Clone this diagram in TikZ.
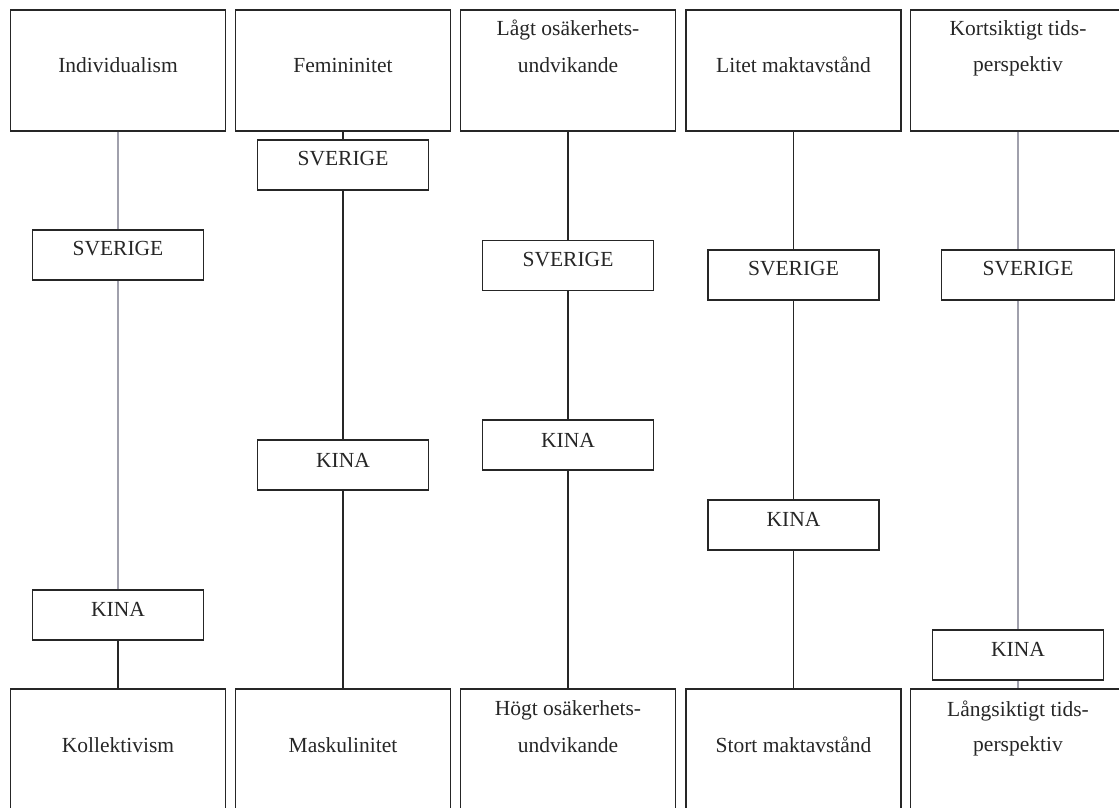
\documentclass[tikz,border=0pt]{standalone}
\usepackage{fontspec}
\setmainfont{Liberation Serif}
\begin{document}
\begin{tikzpicture}[x=1pt,y=-1pt,
  bigbox/.style={draw=black!85,line width=1.5pt,minimum width=215pt,minimum height=121pt,inner sep=0pt},
  smallbox/.style={draw=black!85,line width=1.5pt,minimum width=171pt,minimum height=50pt,inner sep=0pt},
  txt/.style={font=\fontsize{21.5}{36}\selectfont,text=black!85,inner sep=0pt,align=center},
  conn/.style={line width=1.5pt,draw=black!85},
  lconn/.style={line width=1.7pt,draw={rgb,255:red,160;green,160;blue,172}}]
\useasboundingbox (0,0) rectangle (1119,807);
\clip (0,0) rectangle (1119,807);
% top boxes
\node[bigbox] (t1) at (118,70.5) {};
\node[bigbox] (t2) at (343,70.5) {};
\node[bigbox] (t3) at (568,70.5) {};
\node[bigbox] (t4) at (793.5,70.5) {};
\node[bigbox,minimum width=225pt] (t5) at (1023,70.5) {};
% bottom boxes
\node[bigbox] (b1) at (118,749.5) {};
\node[bigbox] (b2) at (343,749.5) {};
\node[bigbox] (b3) at (568,749.5) {};
\node[bigbox] (b4) at (793.5,749.5) {};
\node[bigbox,minimum width=225pt] (b5) at (1023,749.5) {};
% texts of big boxes
\node[txt] at (118,65) {Individualism};
\node[txt] at (343,65) {Femininitet};
\node[txt] at (568,30) {Lågt osäkerhets-};
\node[txt] at (568,65) {undvikande};
\node[txt] at (793.5,65) {Litet maktavstånd};
\node[txt] at (1018,30) {Kortsiktigt tids-};
\node[txt] at (1018,66) {perspektiv};
\node[txt] at (118,745) {Kollektivism};
\node[txt] at (343,745) {Maskulinitet};
\node[txt] at (568,710) {Högt osäkerhets-};
\node[txt] at (568,745) {undvikande};
\node[txt] at (793.5,745) {Stort maktavstånd};
\node[txt] at (1018,711) {Långsiktigt tids-};
\node[txt] at (1018,746) {perspektiv};
% small boxes
\node[smallbox] (s1) at (118,255) {};
\node[smallbox] (k1) at (118,615) {};
\node[smallbox] (s2) at (343,165) {};
\node[smallbox] (k2) at (343,465) {};
\node[smallbox] (s3) at (568,265.5) {};
\node[smallbox] (k3) at (568,445) {};
\node[smallbox] (s4) at (793.5,275) {};
\node[smallbox] (k4) at (793.5,525) {};
\node[smallbox,minimum width=173pt] (s5) at (1028,275) {};
\node[smallbox] (k5) at (1018,655) {};
\node[txt] at (118,249) {SVERIGE};
\node[txt] at (118,609) {KINA};
\node[txt] at (343,159) {SVERIGE};
\node[txt] at (343,460) {KINA};
\node[txt] at (568,260) {SVERIGE};
\node[txt] at (568,440) {KINA};
\node[txt] at (793.5,269) {SVERIGE};
\node[txt] at (793.5,519) {KINA};
\node[txt] at (1028,269) {SVERIGE};
\node[txt] at (1018,649) {KINA};
% connectors
\draw[lconn] (t1.south) -- (s1.north);
\draw[lconn] (s1.south) -- (k1.north);
\draw[conn] (k1.south) -- (b1.north);
\draw[conn] (t2.south) -- (s2.north);
\draw[conn] (s2.south) -- (k2.north);
\draw[conn] (k2.south) -- (b2.north);
\draw[conn] (t3.south) -- (s3.north);
\draw[conn] (s3.south) -- (k3.north);
\draw[conn] (k3.south) -- (b3.north);
\draw[conn] (t4.south) -- (s4.north);
\draw[conn] (s4.south) -- (k4.north);
\draw[conn] (k4.south) -- (b4.north);
\draw[lconn] (t5.south -| k5.north) -- (s5.north -| k5.north);
\draw[lconn] (s5.south -| k5.north) -- (k5.north);
\draw[lconn] (k5.south) -- (b5.north -| k5.south);
\end{tikzpicture}
\end{document}
